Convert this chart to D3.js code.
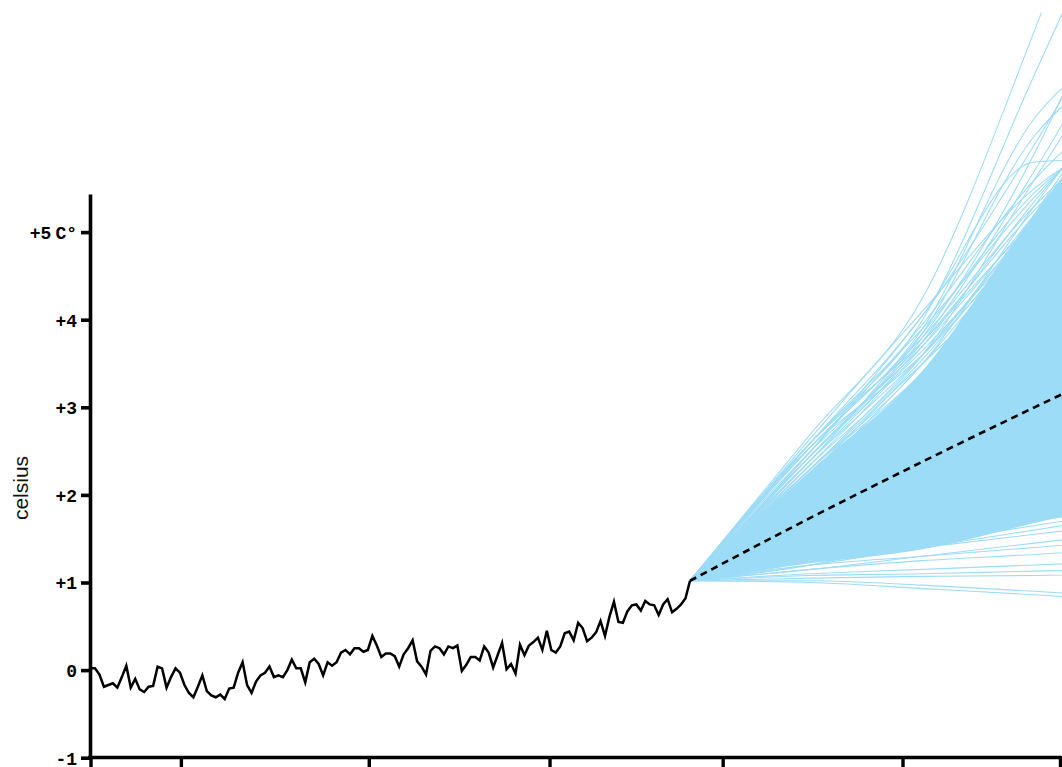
<!DOCTYPE html>
<html><head><meta charset="utf-8">
<script src="https://cdn.jsdelivr.net/npm/d3@7"></script>
<style>
html,body{margin:0;padding:0;background:#fff;overflow:hidden}
svg{display:block}
</style></head><body>
<svg id="chart" width="1062" height="767"></svg>
<script>
// ---------- data ----------
const histStartYear = 1889;
const histValues = [
 0.02, 0.02, -0.05, -0.19, -0.17, -0.15, -0.20, -0.08, 0.05, -0.20,
 -0.10, -0.22, -0.25, -0.19, -0.18, 0.04, 0.02, -0.20, -0.08, 0.02,
 -0.03, -0.17, -0.26, -0.31, -0.19, -0.06, -0.24, -0.29, -0.31, -0.28,
 -0.33, -0.21, -0.20, -0.03, 0.09, -0.17, -0.26, -0.13, -0.06, -0.03,
 0.04, -0.08, -0.06, -0.08, 0.00, 0.12, 0.02, 0.02, -0.14, 0.09,
 0.13, 0.07, -0.06, 0.09, 0.05, 0.09, 0.20, 0.23, 0.18, 0.25,
 0.25, 0.21, 0.23,
 0.39, 0.28, 0.15, 0.19, 0.19, 0.16, 0.04, 0.18, 0.25, 0.34,
 0.10, 0.04, -0.05, 0.22, 0.27, 0.25, 0.18, 0.27, 0.25, 0.28,
 -0.01, 0.06, 0.15, 0.15, 0.11, 0.27, 0.20, 0.03, 0.17, 0.31,
 0.01, 0.07, -0.04, 0.29, 0.17, 0.28, 0.32, 0.37, 0.23, 0.45,
 0.23, 0.20, 0.27, 0.42, 0.44, 0.34, 0.54, 0.48, 0.33, 0.37,
 0.43, 0.56, 0.39, 0.61, 0.78, 0.55, 0.54, 0.67, 0.74, 0.75,
 0.68, 0.79, 0.75, 0.74, 0.63, 0.75, 0.81, 0.66, 0.70, 0.75,
 0.82, 1.02
];
const histYears = histValues.map((v, i) => histStartYear + i);

const fanYears = [2023, 2050, 2075, 2100, 2125];
const fanStart = 1.02;
// dense core of the projection fan (lower / upper edge at each fan year)
const coreLow  = [1.02, 1.22, 1.38, 1.68, 1.98];
const coreHigh = [1.02, 2.28, 3.42, 5.2, 6.9];
// individual runs: values at 2050, 2075, 2100, 2125
const fanRuns = [
 [2.70, 4.25, 7.3, 10.8], [2.60, 4.00, 6.8, 9.6], [2.55, 3.90, 6.3, 7.2], [2.50, 4.05, 5.8, 5.85],
 [2.60, 4.05, 6.0, 8.2], [2.45, 3.80, 5.9, 8.8], [2.40, 3.75, 5.7, 7.9], [2.65, 4.10, 5.5, 6.2],
 [2.45, 3.85, 6.1, 7.0], [2.35, 3.60, 5.6, 7.6],
 [2.55, 3.8, 5.3, 6.4], [2.5, 3.7, 5.2, 6.9], [2.6, 3.9, 5.4, 6.6], [2.45, 3.65, 5.0, 6.0],
 [2.45, 3.75, 5.25, 6.5], [2.35, 3.7, 5.35, 6.8], [2.5, 3.95, 5.6, 6.7], [2.4, 3.85, 5.45, 6.3],
 [2.55, 3.6, 5.0, 6.2], [2.3, 3.6, 5.15, 6.6], [2.6, 3.75, 5.1, 5.9], [2.25, 3.55, 5.05, 6.4],
 [2.3, 3.5, 5.3, 7.0], [2.2, 3.4, 5.2, 6.8], [2.4, 3.6, 5.1, 6.3], [2.1, 3.3, 5.2, 7.1],
 [2.2, 3.5, 5.0, 6.4], [2.0, 3.2, 5.1, 6.9], [2.3, 3.4, 4.9, 6.2], [2.1, 3.3, 4.9, 6.5],
 [2.2, 3.2, 4.8, 6.3], [2.0, 3.1, 4.8, 6.6], [2.3, 3.5, 4.7, 5.6], [2.1, 3.2, 4.7, 6.1],
 [1.9, 3.0, 4.7, 6.4], [2.2, 3.3, 4.6, 5.9], [2.0, 3.1, 4.6, 6.2], [2.1, 3.0, 4.5, 6.0],
 [1.9, 3.1, 4.5, 5.8], [2.2, 3.2, 4.4, 5.5], [2.0, 2.9, 4.4, 5.9], [1.8, 2.9, 4.4, 6.0],
 [2.1, 3.1, 4.3, 5.4], [1.9, 2.9, 4.3, 5.7], [2.0, 3.0, 4.2, 5.3], [1.8, 2.8, 4.2, 5.6],
 [2.1, 2.9, 4.1, 5.2], [1.9, 2.8, 4.1, 5.5], [1.7, 2.7, 4.1, 5.6], [2.0, 2.9, 4.0, 5.1],
 [1.8, 2.8, 4.0, 5.3], [1.9, 2.7, 3.9, 5.0],
 [1.7, 2.7, 3.9, 5.2], [1.8, 2.6, 3.8, 4.9], [1.6, 2.6, 3.8, 5.1], [1.9, 2.7, 3.7, 4.6],
 [1.7, 2.5, 3.7, 4.9], [1.6, 2.6, 3.6, 4.7], [1.8, 2.5, 3.6, 4.6], [1.7, 2.5, 3.5, 4.5],
 [1.5, 2.4, 3.5, 4.7], [1.8, 2.6, 3.4, 4.2], [1.6, 2.4, 3.4, 4.4], [1.7, 2.4, 3.3, 4.2],
 [1.5, 2.3, 3.3, 4.4], [1.8, 2.5, 3.2, 3.9], [1.6, 2.3, 3.2, 4.1], [1.7, 2.4, 3.1, 3.9],
 [1.5, 2.2, 3.1, 4.0], [1.6, 2.3, 3.0, 3.8], [1.7, 2.3, 3.0, 3.7], [1.5, 2.2, 2.95, 3.8],
 [1.6, 2.25, 2.9, 3.6], [1.4, 2.1, 2.9, 3.8], [1.7, 2.3, 2.85, 3.4], [1.5, 2.1, 2.8, 3.5],
 [1.6, 2.2, 2.8, 3.4], [1.4, 2.0, 2.75, 3.5], [1.5, 2.1, 2.7, 3.3], [1.6, 2.15, 2.65, 3.2],
 [1.4, 2.0, 2.6, 3.3], [1.5, 2.05, 2.6, 3.1], [1.45, 1.95, 2.55, 3.2], [1.55, 2.05, 2.5, 3.0],
 [1.4, 1.9, 2.5, 3.1], [1.5, 2.0, 2.45, 2.9], [1.35, 1.9, 2.45, 3.0], [1.45, 1.95, 2.4, 2.8],
 [1.4, 1.85, 2.35, 2.9], [1.5, 1.9, 2.3, 2.7], [1.35, 1.8, 2.3, 2.8], [1.45, 1.85, 2.25, 2.65],
 [1.4, 1.8, 2.2, 2.6], [1.3, 1.75, 2.15, 2.6], [1.45, 1.8, 2.1, 2.4], [1.35, 1.7, 2.05, 2.45],
 [1.3, 1.65, 2.0, 2.35], [1.4, 1.7, 1.95, 2.2], [1.25, 1.6, 1.9, 2.25], [1.35, 1.6, 1.85, 2.1],
 [1.3, 1.55, 1.8, 2.05], [1.2, 1.5, 1.75, 2.05], [1.3, 1.5, 1.7, 1.9], [1.25, 1.45, 1.65, 1.85],
 [1.2, 1.4, 1.6, 1.8], [1.25, 1.4, 1.55, 1.7], [1.15, 1.3, 1.45, 1.6], [1.2, 1.3, 1.4, 1.5],
 [1.15, 1.25, 1.32, 1.4], [1.1, 1.15, 1.2, 1.25], [1.08, 1.1, 1.13, 1.15], [1.05, 1.07, 1.08, 1.1],
 [1.02, 0.97, 0.9, 0.82], [1.0, 0.93, 0.86, 0.78]
];
const medianValues = [1.02, 1.74, 2.38, 3.0, 3.6];

const yTickValues = [-1, 0, 1, 2, 3, 4, 5];
const yTickLabels = ["-1", "0", "+1", "+2", "+3", "+4", "+5"];
const yUnit = "C°";
const xTickYears = [1889, 1909.2, 1951.2, 1991.6, 2030.3, 2070.5, 2105.7];
const yAxisTitle = "celsius";

// ---------- drawing ----------
const fanColor = "#9ddcf6";
const svg = d3.select("#chart");
const x = d3.scaleLinear().domain([histStartYear, 2023]).range([90.5, 690]);
const y = d3.scaleLinear().domain([-1, 5.435]).range([757.7, 194]);

svg.append("defs").append("clipPath").attr("id", "plotclip")
  .append("rect").attr("x", 0).attr("y", 13).attr("width", 1062).attr("height", 760);

const plot = svg.append("g").attr("clip-path", "url(#plotclip)");

const curveLine = d3.line().x(d => x(d[0])).y(d => y(d[1])).curve(d3.curveMonotoneX);
const straightLine = d3.line().x(d => x(d[0])).y(d => y(d[1]));
const coreArea = d3.area().x((d, i) => x(fanYears[i])).y0((d, i) => y(coreLow[i])).y1((d, i) => y(coreHigh[i]))
  .curve(d3.curveMonotoneX);

plot.append("path").attr("d", coreArea(fanYears)).attr("fill", fanColor);

plot.append("g").selectAll("path").data(fanRuns).join("path")
  .attr("d", r => curveLine(fanYears.map((yr, i) => [yr, i === 0 ? fanStart : r[i - 1]])))
  .attr("fill", "none").attr("stroke", fanColor).attr("stroke-width", 1.1);

plot.append("path")
  .attr("d", curveLine(fanYears.map((yr, i) => [yr, medianValues[i]])))
  .attr("fill", "none").attr("stroke", "#000").attr("stroke-width", 2.6).attr("stroke-dasharray", "7,5");

plot.append("path")
  .attr("d", straightLine(histYears.map((yr, i) => [yr, histValues[i]])))
  .attr("fill", "none").attr("stroke", "#000").attr("stroke-width", 2.5).attr("stroke-linejoin", "miter");

// axes
const yAxis = svg.append("g").attr("transform", "translate(90,0)")
  .call(d3.axisLeft(y).tickValues(yTickValues).tickSize(9).tickSizeOuter(0).tickPadding(4)
    .tickFormat((d, i) => yTickLabels[i]));
yAxis.select(".domain").attr("stroke-width", 3.6);
yAxis.selectAll(".tick line").attr("stroke-width", 3.6);
yAxis.selectAll(".tick text")
  .attr("font-family", "'Liberation Mono', monospace").attr("font-weight", "bold").attr("font-size", 18)
  .attr("fill", "#000").attr("dy", "0.35em");
yAxis.selectAll(".tick text").filter(d => d === 5).each(function() {
  d3.select(this).append("tspan").attr("dx", 4).text(yUnit);
});

const xAxis = svg.append("g").attr("transform", "translate(0,757.5)")
  .call(d3.axisBottom(x).tickValues(xTickYears).tickSize(14).tickSizeOuter(0).tickFormat(""));
xAxis.select(".domain").attr("stroke-width", 3.6).attr("d", "M88,0H1062");
xAxis.selectAll(".tick line").attr("stroke-width", 3.4);

svg.append("text")
  .attr("transform", "translate(28,488) rotate(-90)")
  .attr("text-anchor", "middle")
  .attr("font-family", "'Liberation Sans', Arial, sans-serif")
  .attr("font-size", 21)
  .attr("fill", "#111")
  .text(yAxisTitle);
</script>
</body></html>
